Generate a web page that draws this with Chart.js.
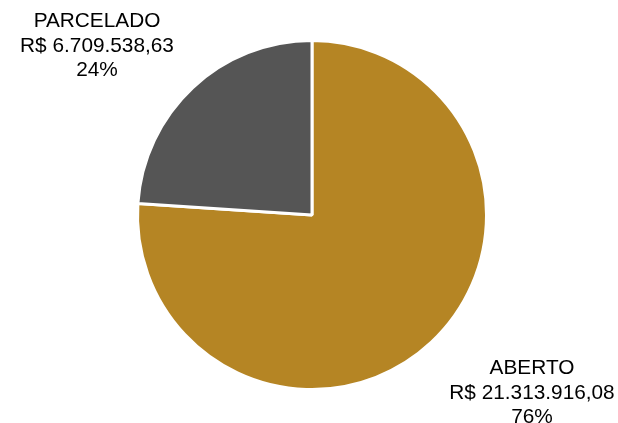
<!DOCTYPE html>
<html>
<head>
<meta charset="utf-8">
<script src="https://cdn.jsdelivr.net/npm/chart.js@4"></script>
<style>
html,body{margin:0;padding:0;background:#fff;}
#wrap{width:618px;height:423px;}
</style>
</head>
<body>
<div id="wrap"><canvas id="c" width="618" height="423"></canvas></div>
<script>
const categories = ["ABERTO", "PARCELADO"];
const values = [21313916.08, 6709538.63];
const valueLabels = ["R$ 21.313.916,08", "R$ 6.709.538,63"];
const percentLabels = ["76%", "24%"];
const colors = ["#B58524", "#555555"];

const labelPlugin = {
  id: 'outLabels',
  afterDraw(chart) {
    const ctx = chart.ctx;
    // anchor positions for label blocks (centre x, first baseline y)
    const anchors = [[532, 374], [97, 27]];
    ctx.save();
    ctx.font = '20.8px "Liberation Sans", Arial, sans-serif';
    ctx.fillStyle = '#000';
    ctx.textAlign = 'center';
    ctx.textBaseline = 'alphabetic';
    categories.forEach((cat, i) => {
      const [x, y] = anchors[i];
      const lines = [cat, valueLabels[i], percentLabels[i]];
      lines.forEach((t, k) => ctx.fillText(t, x, y + k * 24.5));
    });
    ctx.restore();
  }
};

new Chart(document.getElementById('c'), {
  type: 'pie',
  data: {
    labels: categories,
    datasets: [{
      data: values,
      backgroundColor: colors,
      borderColor: '#ffffff',
      borderWidth: 3
    }]
  },
  options: {
    responsive: false,
    animation: false,
    devicePixelRatio: 1,
    layout: { padding: { left: 136, top: 39, right: 130, bottom: 32 } },
    plugins: { legend: { display: false }, tooltip: { enabled: false } }
  },
  plugins: [labelPlugin]
});
</script>
</body>
</html>
